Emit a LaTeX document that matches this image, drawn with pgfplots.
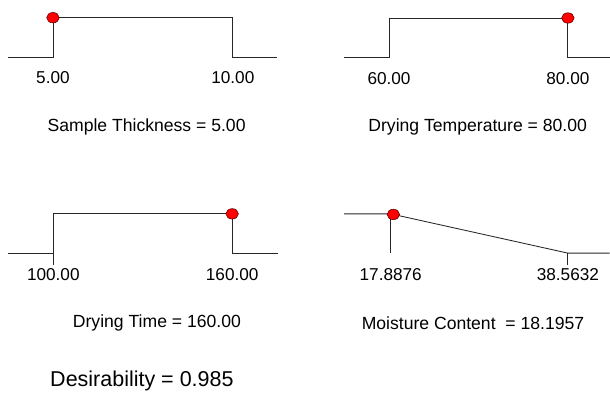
\documentclass[border=0pt]{standalone}
\usepackage{fontspec}
\setmainfont{Liberation Sans}
\usepackage{pgfplots}
\pgfplotsset{compat=1.18}
\pgfplotsset{
 ramp/.style={
  scale only axis, height=39.3pt, ymin=0, ymax=1, clip=false,
  axis line style={draw=none}, ytick=\empty, major tick length=0pt,
  xtick style={draw=none},
  xticklabel style={font=\fontsize{17.2}{20}\selectfont, anchor=center, yshift=-21pt, inner sep=0pt},
  anchor=south west,
 },
 ln/.style={black!85, line width=0.85pt, no marks},
 dot/.style={only marks, mark=*, mark size=5.2pt, mark options={fill=red, draw=black!60!red, line width=0.6pt, xscale=1.2}},
}
\begin{document}
\begin{tikzpicture}
\path (0,0) rectangle (610pt,-395pt);
% Panel 1
\begin{axis}[ramp, at={(8pt,-57pt)}, width=269pt, xmin=3.75, xmax=11.2222,
  xtick={5,10}, xticklabels={5.00,10.00}]
\addplot[ln] coordinates {(3.75,0) (5,0) (5,1) (10,1) (10,0) (11.2222,0)};
\addplot[dot] coordinates {(5,1)};
\end{axis}
% Panel 2
\begin{axis}[ramp, at={(344.3pt,-57.3pt)}, width=265.7pt, xmin=54.97, xmax=84.66,
  xtick={60,80}, xticklabels={60.00,80.00}]
\addplot[ln] coordinates {(54.97,0) (60,0) (60,1) (80,1) (80,0) (84.66,0)};
\addplot[dot] coordinates {(80,1)};
\end{axis}
% Panel 3
\begin{axis}[ramp, at={(8.3pt,-253.3pt)}, width=269.4pt, xmin=84.91, xmax=175.2,
  xtick={100,160}, xticklabels={100.00,160.00}]
\addplot[ln] coordinates {(84.91,0) (100,0)};
\addplot[ln] coordinates {(100,-0.3) (100,1) (160,1) (160,0) (175.2,0)};
\addplot[dot] coordinates {(160,1)};
\end{axis}
% Panel 4
\begin{axis}[ramp, at={(344.3pt,-253.3pt)}, width=265.7pt, xmin=12.44, xmax=43.43,
  xtick={17.8876,38.5632}, xticklabels={17.8876,38.5632}]
\addplot[ln] coordinates {(12.44,1) (17.8876,1) (38.5632,0) (43.43,0)};
\addplot[ln] coordinates {(17.8876,1) (17.8876,0)};
\addplot[ln] coordinates {(38.5632,0) (38.5632,-0.3)};
\addplot[dot] coordinates {(18.1957,0.985)};
\end{axis}
\begin{scope}[every node/.style={font=\fontsize{17.6}{20}\selectfont, inner sep=0pt}]
\node at (146.7pt,-127pt) {Sample Thickness = 5.00};
\node at (478pt,-127pt) {Drying Temperature = 80.00};
\node at (157pt,-323.5pt) {Drying Time = 160.00};
\node at (473.3pt,-323.5pt) {Moisture Content\ \ = 18.1957};
\end{scope}
\node[font=\fontsize{21.5}{25}\selectfont, inner sep=0pt] at (142pt,-381pt) {Desirability = 0.985};
\end{tikzpicture}
\end{document}
